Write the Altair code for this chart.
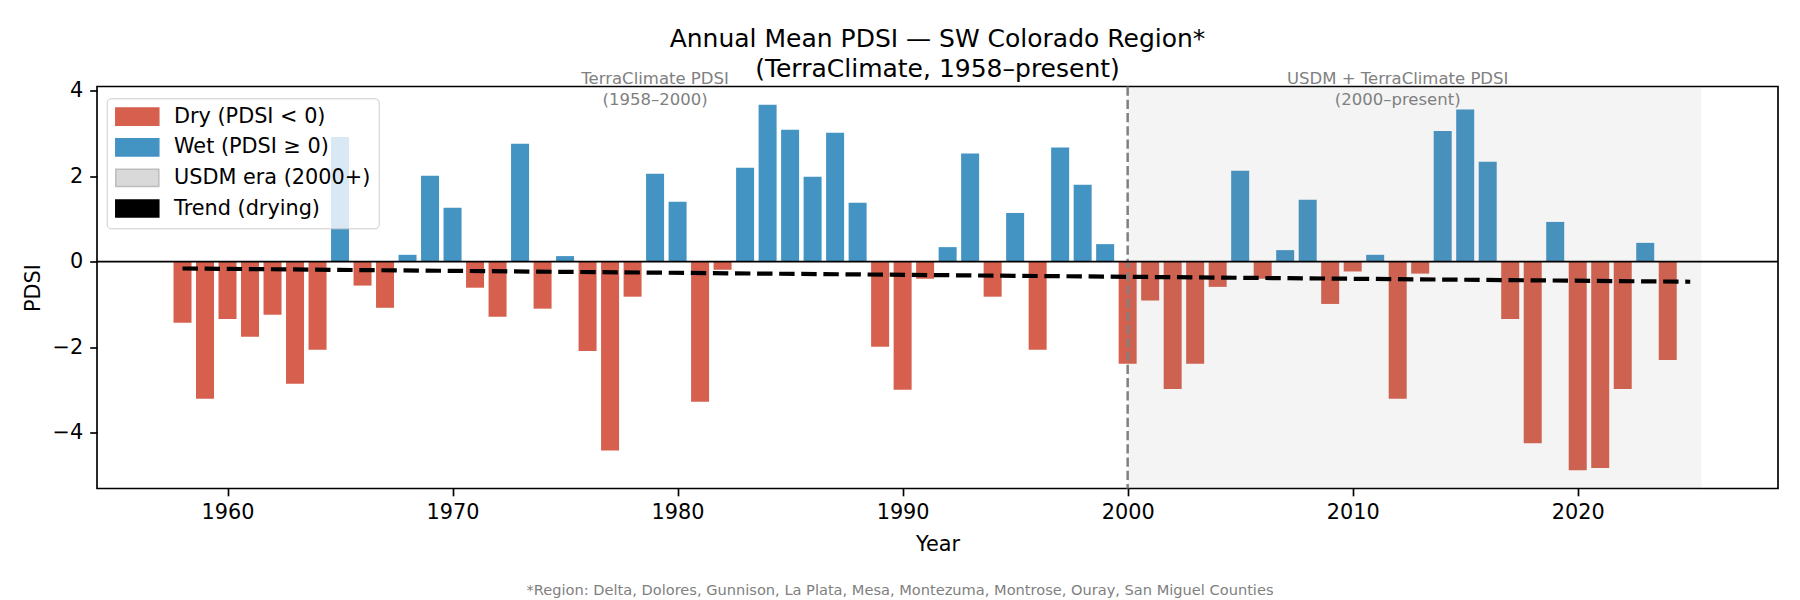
import altair as alt
import pandas as pd

# ---- data ----
years = list(range(1958, 2025))
pdsi = [
    -1.43, -3.21, -1.34, -1.76, -1.24, -2.86, -2.06, 2.92, -0.56, -1.08,   # 1958-1967
    0.16, 2.01, 1.26, -0.61, -1.29, 2.76, -1.10, 0.13, -2.09, -4.42,      # 1968-1977
    -0.82, 2.06, 1.40, -3.28, -0.19, 2.20, 3.67, 3.09, 1.99, 3.02,        # 1978-1987
    1.38, -1.99, -3.00, -0.40, 0.34, 2.53, -0.82, 1.14, -2.06, 2.67,      # 1988-1997
    1.80, 0.41, -2.39, -0.91, -2.98, -2.39, -0.59, 2.13, -0.40, 0.27,     # 1998-2007
    1.45, -0.99, -0.23, 0.16, -3.21, -0.28, 3.06, 3.56, 2.34, -1.34,      # 2008-2017
    -4.25, 0.93, -4.88, -4.83, -2.98, 0.44, -2.30,                        # 2018-2024
]
trend_years = [1958, 2025]
trend_values = [-0.16, -0.47]
usdm_start = [2000]
usdm_end = [2025.5]
era_labels = ["TerraClimate PDSI\n(1958–2000)", "USDM + TerraClimate PDSI\n(2000–present)"]
era_x = [1979, 2012]
era_y = [4.27, 4.27]
legend_labels = ["Dry (PDSI < 0)", "Wet (PDSI ≥ 0)", "USDM era (2000+)", "Trend (drying)"]
legend_colors = ["#d6604d", "#4393c3", "#d9d9d9", "#000000"]
legend_edges = ["#d6604d", "#4393c3", "#bdbdbd", "#000000"]
title_lines = ["Annual Mean PDSI — SW Colorado Region*", "(TerraClimate, 1958–present)"]
footnote = "*Region: Delta, Dolores, Gunnison, La Plata, Mesa, Montezuma, Montrose, Ouray, San Miguel Counties"

FONT = "DejaVu Sans"
W, H = 1681, 402
XDOM = [1954.2, 2028.9]
YDOM = [-5.31, 4.10]

bars_df = pd.DataFrame({"year": years, "pdsi": pdsi})
bars_df["cat"] = [legend_labels[0] if v < 0 else legend_labels[1] for v in pdsi]
bars_df["x0"] = bars_df["year"] - 0.4
bars_df["x1"] = bars_df["year"] + 0.4
trend_df = pd.DataFrame({"year": trend_years, "value": trend_values})
span_df = pd.DataFrame({"start": usdm_start, "end": usdm_end})
ann_df = pd.DataFrame({"label": era_labels, "x": era_x, "y": era_y})

xscale = alt.Scale(domain=XDOM, nice=False, zero=False)
yscale = alt.Scale(domain=YDOM, nice=False, zero=False)

legend = alt.Legend(
    title=None, orient="none", legendX=9.7, legendY=11.8,
    symbolType="M-2.5,-1H2.5V1H-2.5Z", symbolSize=296, symbolOpacity=1,
    symbolStrokeWidth=1.5, symbolOffset=12.2,
    labelFont=FONT, labelFontSize=20.8, labelColor="black", labelOffset=26.3,
    labelLimit=400, rowPadding=5.6, padding=8, fillColor="rgba(255,255,255,0.8)",
    strokeColor="#cccccc", cornerRadius=4,
)

bars = alt.Chart(bars_df).mark_bar(strokeWidth=0).encode(
    x=alt.X("x0:Q", scale=xscale,
            axis=alt.Axis(title="Year", values=[1960, 1970, 1980, 1990, 2000, 2010, 2020], format="d",
                          labelPadding=7, titlePadding=11.5)),
    x2="x1:Q",
    y=alt.Y("pdsi:Q", scale=yscale,
            axis=alt.Axis(title="PDSI", values=[-4, -2, 0, 2, 4],
                          labelExpr="replace(datum.label, '-', '−')",
                          labelPadding=7, titlePadding=9)),
    y2=alt.datum(0),
    color=alt.Color("cat:N", scale=alt.Scale(domain=legend_labels, range=legend_colors), legend=legend),
    stroke=alt.Stroke("cat:N", scale=alt.Scale(domain=legend_labels, range=legend_edges), legend=legend),
)

span = alt.Chart(span_df).mark_rect(color="gray", opacity=0.087).encode(
    x=alt.X("start:Q", scale=xscale), x2="end:Q"
)

vline = alt.Chart(span_df).mark_rule(color="gray", strokeWidth=2.5, strokeDash=[9.25, 4]).encode(
    x=alt.X("start:Q", scale=xscale)
)

zero = alt.Chart(pd.DataFrame({"z": [0]})).mark_rule(color="black", strokeWidth=1.7).encode(
    y=alt.Y("z:Q", scale=yscale)
)

trend = alt.Chart(trend_df).mark_line(color="black", strokeWidth=4.2, strokeDash=[15.4, 6.7]).encode(
    x=alt.X("year:Q", scale=xscale), y=alt.Y("value:Q", scale=yscale)
)

ann = alt.Chart(ann_df).mark_text(
    font=FONT, fontSize=16.5, color="gray", align="center", baseline="middle",
    lineBreak="\n", lineHeight=20.5
).encode(x=alt.X("x:Q", scale=xscale), y=alt.Y("y:Q", scale=yscale), text="label:N")

foot = alt.Chart(pd.DataFrame({"t": [footnote]})).mark_text(
    font=FONT, fontSize=14.6, color="gray", align="center", baseline="alphabetic"
).encode(x=alt.value(803), y=alt.value(508), text="t:N")

chart = alt.layer(bars, span, vline, zero, trend, ann, foot).properties(
    width=W, height=H,
    title=alt.TitleParams(text=title_lines, font=FONT, fontSize=25, fontWeight="normal",
                          color="black", anchor="middle", baseline="alphabetic",
                          offset=-31, lineHeight=30, frame="group"),
    autosize=alt.AutoSizeParams(type="none"),
    padding={"left": 89, "top": 78.5, "right": 14, "bottom": 110},
).configure_view(stroke="black", strokeWidth=1.67).configure_axis(
    domain=False, grid=False, tickColor="black", tickWidth=1.67, tickSize=7.3,
    labelFont=FONT, labelFontSize=20.8, labelColor="black",
    titleFont=FONT, titleFontSize=20.8, titleFontWeight="normal", titleColor="black",
)

chart.save("out.html", embed_options={"renderer": "svg", "actions": False})
